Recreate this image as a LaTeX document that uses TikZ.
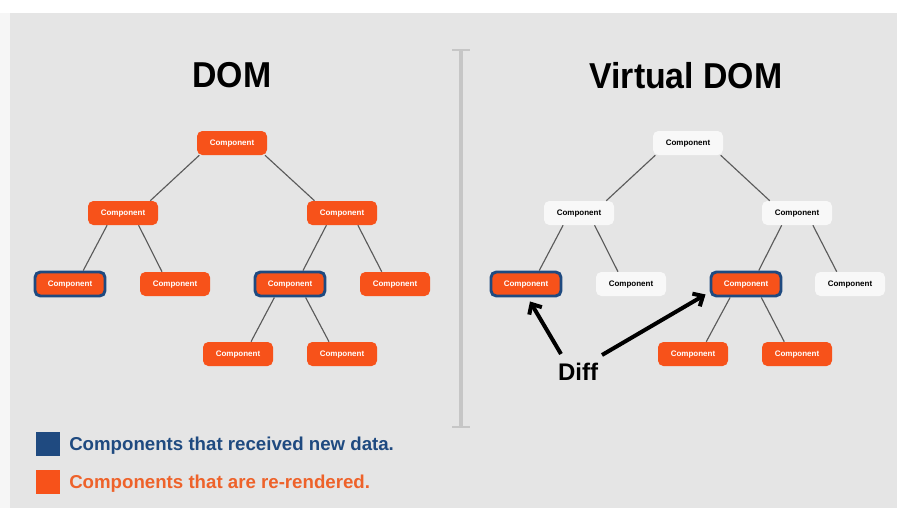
\documentclass[tikz,border=0pt]{standalone}
\usepackage{fontspec}
\setmainfont{Liberation Sans}
\usepackage{graphicx}
\usetikzlibrary{arrows.meta,calc}

\definecolor{pagegrey}{RGB}{229,229,229}
\definecolor{edgewhite}{RGB}{246,246,246}
\definecolor{comporange}{RGB}{247,82,26}
\definecolor{legendorange}{RGB}{238,98,42}
\definecolor{datablue}{RGB}{31,74,128}
\definecolor{nodewhite}{RGB}{248,248,248}
\definecolor{linkgrey}{RGB}{90,90,90}
\definecolor{divgrey}{RGB}{198,198,198}

\tikzset{
  comp/.style={rounded corners=4pt, minimum width=52.5pt, minimum height=18pt,
    inner sep=0pt, text height=4.4pt, text depth=0pt,
    font=\fontsize{6}{7}\selectfont\bfseries},
  rendered/.style={comp, fill=comporange, text=white},
  idle/.style={comp, fill=nodewhite, text=black},
  newdata/.style={rendered, draw=datablue, line width=2.2pt},
  link/.style={draw=linkgrey, line width=0.85pt},
  title/.style={font=\fontsize{27}{30}\selectfont\bfseries},
  keybox/.style={minimum size=18pt, inner sep=0pt},
  keytext/.style={anchor=base west, inner sep=0pt, font=\fontsize{14}{16}\selectfont\bfseries},
  diffarrow/.style={line width=3pt, -{Straight Barb[length=6pt, width=11pt]}}
}

% parent-to-child connector: leaves the parent's bottom edge and lands on
% the child's top edge, each end pulled toward the other node
\newcommand\treelink[2]{%
  \path ($(#1.south)!0.3!(#2.north)$) coordinate (lkA)
        ($(#2.north)!0.25!(#1.south)$) coordinate (lkB);
  \draw[link] (lkA |- #1.south) -- (lkB |- #2.north);}

\begin{document}
\begin{tikzpicture}[x=0.75pt, y=-0.75pt]
\useasboundingbox (0,0) rectangle (897,508);
\fill[white] (0,0) rectangle (897,508);
\fill[edgewhite] (0,13) rectangle (10,508);
\fill[pagegrey] (10,13) rectangle (897,508);

% titles
\node[title] (domtitle) at (232,75) {\scalebox{0.94}[1]{DOM}};
\node[title] (vdomtitle) at (686,76) {\scalebox{0.94}[1]{Virtual DOM}};

% divider
\draw[divgrey, line width=2.6pt] (461,50) -- (461,427);
\draw[divgrey, line width=1.8pt] (452,50) -- (470,50);
\draw[divgrey, line width=1.8pt] (452,427) -- (470,427);

% ---- real DOM tree: every component re-renders
\node[rendered] (dRoot) at (232,143) {Component};
\node[rendered] (dL) at (123,213) {Component};
\node[rendered] (dR) at (342,213) {Component};
\node[newdata]  (dLL) at (70,284) {Component};
\node[rendered] (dLR) at (175,284) {Component};
\node[newdata]  (dRL) at (290,284) {Component};
\node[rendered] (dRR) at (395,284) {Component};
\node[rendered] (dRLL) at (238,354) {Component};
\node[rendered] (dRLR) at (342,354) {Component};

\treelink{dRoot}{dL}
\treelink{dRoot}{dR}
\treelink{dL}{dLL}
\treelink{dL}{dLR}
\treelink{dR}{dRL}
\treelink{dR}{dRR}
\treelink{dRL}{dRLL}
\treelink{dRL}{dRLR}

% ---- virtual DOM tree: only the diffed subtrees re-render
\node[idle]     (vRoot) at (688,143) {Component};
\node[idle]     (vL) at (579,213) {Component};
\node[idle]     (vR) at (797,213) {Component};
\node[newdata]  (vLL) at (526,284) {Component};
\node[idle]     (vLR) at (631,284) {Component};
\node[newdata]  (vRL) at (746,284) {Component};
\node[idle]     (vRR) at (850,284) {Component};
\node[rendered] (vRLL) at (693,354) {Component};
\node[rendered] (vRLR) at (797,354) {Component};

\treelink{vRoot}{vL}
\treelink{vRoot}{vR}
\treelink{vL}{vLL}
\treelink{vL}{vLR}
\treelink{vR}{vRL}
\treelink{vR}{vRR}
\treelink{vRL}{vRLL}
\treelink{vRL}{vRLR}

% diff arrows
\node[font=\fontsize{18}{20}\selectfont\bfseries] (diff) at (578,372) {Diff};
\coordinate (diffTailL) at (561,354);
\coordinate (diffTailR) at (602,355);
\draw[diffarrow] (diffTailL) -- ($(vLL.south)+(4,4)$);
\draw[diffarrow] (diffTailR) -- ($(vRL.south west)+(-4,-3)$);

% legend
\node[keybox, fill=datablue] (keyNew) at (48,444) {};
\node[keybox, fill=comporange] (keyRendered) at (48,482) {};
\node[keytext, text=datablue] (keyNewText) at (69,450) {Components that received new data.};
\node[keytext, text=legendorange] (keyRenderedText) at (69,488) {Components that are re-rendered.};
\end{tikzpicture}
\end{document}
